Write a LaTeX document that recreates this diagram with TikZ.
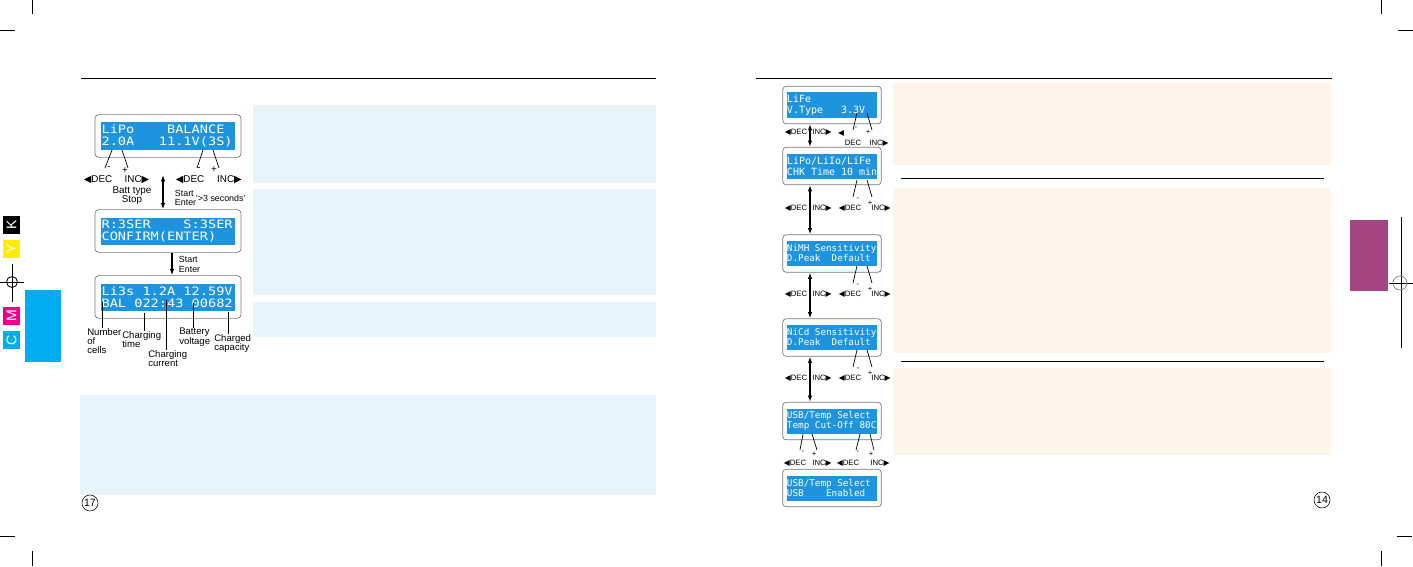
\documentclass[tikz,border=0pt]{standalone}
\usepackage{fontspec}
\setmainfont{Liberation Sans}
\newfontfamily\lcdfont[FakeStretch=1.18]{DejaVu Sans Mono}
\newfontfamily\lcdfontsm{DejaVu Sans Mono}
\newfontfamily\trifont{DejaVu Sans}
\usetikzlibrary{calc, positioning, arrows.meta, fit}
\definecolor{lcdblue}{RGB}{30,148,222}
\definecolor{framegray}{RGB}{120,120,120}
\definecolor{panelblue}{RGB}{230,244,252}
\definecolor{panelpeach}{RGB}{254,244,234}
\definecolor{cyanbox}{RGB}{0,174,239}
\definecolor{magentabox}{RGB}{236,0,140}
\definecolor{yellowbox}{RGB}{255,237,0}
\definecolor{purplebar}{RGB}{164,70,127}
\newcommand{\keydec}{{\trifont ◀}DEC}
\newcommand{\keyinc}{INC{\trifont ▶}}
% blank LCD cells, one character wide each
\newcommand{\gap}[1]{\hbox to #1\fontcharwd\font`0{}}
\tikzset{
    lcdframe/.style={draw=framegray, rounded corners=2.5pt, line width=0.5pt, inner xsep=0.14cm, inner ysep=0.19cm},
    lcdframesm/.style={draw=framegray, rounded corners=2.5pt, line width=0.5pt, inner xsep=0.1cm, inner ysep=0.15cm},
    lcdscreen/.style={fill=lcdblue, text=white, align=left, font=\fontsize{8.2}{8.2}\lcdfont, text width=3.32cm, inner xsep=0.015cm, inner ysep=0pt, minimum height=0.675cm},
    lcdscreensm/.style={fill=lcdblue, text=white, align=left, font=\fontsize{6.6}{7.1}\lcdfontsm, text width=2.25cm, inner xsep=0pt, inner ysep=0pt, minimum height=0.625cm},
    keylabel/.style={font=\fontsize{7}{6.8}\selectfont, inner sep=0.5pt},
    keylabelsm/.style={font=\fontsize{5.5}{5.5}\selectfont, inner sep=0.5pt},
    notelabel/.style={font=\fontsize{6.8}{6.6}\selectfont, align=left, inner sep=0pt},
    leadline/.style={line width=0.5pt},
    cropline/.style={line width=0.6pt},
    ruleline/.style={line width=0.7pt},
    flowboth/.style={{Latex[length=4.5pt,width=3.2pt]}-{Latex[length=4.5pt,width=3.2pt]}, line width=0.8pt},
    flowone/.style={-{Latex[length=4.5pt,width=3.2pt]}, line width=0.8pt},
    regbox/.style={minimum size=0.43cm, inner sep=0pt, text=white, rotate=90, font=\fontsize{10}{10}\selectfont},
    pagenum/.style={draw, circle, minimum size=0.4cm, inner sep=0pt, line width=0.4pt, font=\fontsize{7.5}{7.5}\selectfont}
}
\begin{document}
\begin{tikzpicture}[x=0.025cm, y=-0.025cm]
\useasboundingbox (0,0) rectangle (1413,566);

% crop marks
\draw[cropline] (32,0) -- (32,14);
\draw[cropline] (0,30) -- (15,30);
\draw[cropline] (1381,0) -- (1381,14);
\draw[cropline] (1398,30) -- (1413,30);
\draw[cropline] (0,536) -- (15,536);
\draw[cropline] (32,551) -- (32,566);
\draw[cropline] (1397,536) -- (1412,536);
\draw[cropline] (1381,551) -- (1381,566);

% colour bars and register marks
\node[regbox, fill=black] (regk) at (11.5,225) {K};
\node[regbox, fill=yellowbox] (regy) at (11.5,249) {Y};
\node[regbox, fill=magentabox] (regm) at (11.5,316) {M};
\node[regbox, fill=cyanbox] (regc) at (11.5,340) {C};
\draw[cropline] (12,264) -- (12,302);
\draw[cropline] (0,282) -- (24,282);
\draw[cropline] (12,282) circle[radius=5.5];
\fill[cyanbox] (25,290) rectangle (61,362);
\fill[purplebar] (1350,220) rectangle (1388,291);
\draw[cropline] (1401,217) -- (1401,348);
\draw[cropline] (1389,283) -- (1413,283);
\draw[gray, line width=0.5pt] (1400,283) circle[radius=7];

% header rules and panels
\draw[ruleline] (81,78) -- (656,78);
\draw[ruleline] (756,78) -- (1332,78);
\fill[panelblue] (253,105) rectangle (656,183);
\fill[panelblue] (253,189) rectangle (656,295);
\fill[panelblue] (253,302) rectangle (656,337);
\fill[panelblue] (80,395) rectangle (656,495);
\fill[panelpeach] (893,83) rectangle (1331,165);
\fill[panelpeach] (893,188) rectangle (1331,353);
\fill[panelpeach] (893,368) rectangle (1331,455);
\draw[ruleline] (901,178) -- (1324,178);
\draw[ruleline] (901,361) -- (1324,361);

% left page: balance charge screens
\node[lcdscreen] (scr1) at (168,136) {LiPo\gap{4}BALANCE\\2.0A\gap{3}11.1V(3S)};
\node[lcdframe, fit=(scr1)] (frm1) {};
\node[lcdscreen] (scr2) at (168,231) {R:3SER\gap{4}S:3SER\\CONFIRM(ENTER)};
\node[lcdframe, fit=(scr2)] (frm2) {};
\node[lcdscreen] (scr3) at (168,297) {Li3s\gap{1}1.2A\gap{1}12.59V\\BAL\gap{1}022:43\gap{1}00682};
\node[lcdframe, fit=(scr3)] (frm3) {};

\node[keylabel] (dec1) at (98,180) {\keydec};
\node[keylabel] (inc1) at (137,180) {\keyinc};
\node[keylabel] (minus1) at (109,168) {-};
\node[keylabel] (plus1) at (125,171) {+};
\node[keylabel, align=center] (batt) at (132,195.5) {Batt type\\Stop};
\node[keylabel] (dec2) at (190,180) {\keydec};
\node[keylabel] (inc2) at (229.5,180) {\keyinc};
\node[keylabel] (minus2) at (199,169) {-};
\node[keylabel] (plus2) at (214,170) {+};
\coordinate (t1a) at (112,150); \coordinate (b1a) at (105,168);
\coordinate (t1b) at (122,150); \coordinate (b1b) at (128,168);
\coordinate (t2a) at (203,150); \coordinate (b2a) at (197,168);
\coordinate (t2b) at (213,150); \coordinate (b2b) at (219,168);
\draw[leadline] (t1a) -- (b1a);
\draw[leadline] (t1b) -- (b1b);
\draw[leadline] (t2a) -- (b2a);
\draw[leadline] (t2b) -- (b2b);

\coordinate (swtop) at (163,175);
\draw[flowboth] (swtop) -- (swtop |- frm2.north);
\node[keylabel, font=\fontsize{6.3}{6.8}\selectfont, align=left, anchor=west] (start1) at (174,198) {Start\\Enter};
\node[keylabel, font=\fontsize{6.3}{6.8}\selectfont, anchor=west] (secs) at (195,198) {'>3 seconds'};
\draw[flowone] ($(frm2.south)+(4,0)$) -- ($(frm3.north)+(4,0)$);
\node[keylabel, font=\fontsize{6.3}{6.8}\selectfont, align=left, anchor=west] (start2) at (178,264.5) {Start\\Enter};

% readout legend
\node[notelabel, anchor=north west] (cells) at (87,328) {Number\\of\\cells};
\node[notelabel, anchor=north west] (ctime) at (122,331) {Charging\\time};
\node[notelabel, anchor=north west] (ccur) at (148,350) {Charging\\current};
\node[notelabel, anchor=north west] (bvolt) at (179,328) {Battery\\voltage};
\node[notelabel, anchor=north west] (ccap) at (214,334) {Charged\\capacity};
\coordinate (n1) at (102,302);
\coordinate (n2) at (144,313);
\coordinate (n3) at (166,300);
\coordinate (n4) at (193,303);
\coordinate (n5) at (228,312);
\draw[leadline] (n1) -- (n1 |- cells.north);
\draw[leadline] (n2) -- (n2 |- ctime.north);
\draw[leadline] (n3) -- (n3 |- ccur.north);
\draw[leadline] (n4) -- (n4 |- bvolt.north);
\draw[leadline] (n5) -- (n5 |- ccap.north);

\node[pagenum] (pgleft) at (90,503) {17};

% right page: settings screens
\node[lcdscreensm, font=\fontsize{7.1}{7.6}\lcdfontsm] (scra) at (832,105) {LiFe\\V.Type\gap{3}3.3V};
\node[lcdframesm, fit=(scra)] (frma) {};
\node[lcdscreensm, font=\fontsize{7.1}{7.6}\lcdfontsm] (scrb) at (832,166) {LiPo/LiIo/LiFe\\CHK\gap{1}Time\gap{1}10\gap{1}min};
\node[lcdframesm, fit=(scrb)] (frmb) {};
\node[lcdscreensm] (scrc) at (832,253.5) {NiMH\gap{1}Sensitivity\\D.Peak\gap{2}Default};
\node[lcdframesm, fit=(scrc)] (frmc) {};
\node[lcdscreensm] (scrd) at (832,337.5) {NiCd\gap{1}Sensitivity\\D.Peak\gap{2}Default};
\node[lcdframesm, fit=(scrd)] (frmd) {};
\node[lcdscreensm] (scre) at (832,421) {USB/Temp\gap{1}Select\\Temp\gap{1}Cut-Off\gap{1}80C};
\node[lcdframesm, fit=(scre)] (frme) {};
\node[lcdscreensm] (scrf) at (832,488) {USB/Temp\gap{1}Select\\USB\gap{4}Enabled};
\node[lcdframesm, fit=(scrf)] (frmf) {};

\foreach \a/\b in {a/b, b/c, c/d, d/e}
    \draw[flowboth] ($(frm\a.south)+(-22,0)$) -- ($(frm\b.north)+(-22,0)$);

% key rows
\node[keylabelsm] (decla) at (796,132) {\keydec};
\node[keylabelsm] (incla) at (822,132) {\keyinc};
\node[keylabelsm] (triar) at (841,133) {{\trifont ◀}};
\node[keylabelsm] (decra) at (853,143) {DEC};
\node[keylabelsm] (incra) at (879,143) {\keyinc};
\node[keylabelsm] (minusa) at (856,128) {-};
\node[keylabelsm] (plusa) at (868,132) {+};
\coordinate (ta1) at (857,113); \coordinate (ba1) at (853,130);
\coordinate (ta2) at (867,113); \coordinate (ba2) at (872,130);
\draw[leadline] (ta1) -- (ba1);
\draw[leadline] (ta2) -- (ba2);

\foreach \s/\yb in {b/180, c/266, d/350} {
    \node[keylabelsm] (decl\s) at (796,\yb+28) {\keydec};
    \node[keylabelsm] (incl\s) at (822,\yb+28) {\keyinc};
    \node[keylabelsm] (decr\s) at (850,\yb+28) {\keydec};
    \node[keylabelsm] (incr\s) at (881,\yb+28) {\keyinc};
    \node[keylabelsm] (minus\s) at (858,\yb+19) {-};
    \node[keylabelsm] (plus\s) at (870,\yb+23) {+};
    \coordinate (t\s1) at (857,\yb); \coordinate (b\s1) at (853,\yb+17);
    \coordinate (t\s2) at (867,\yb); \coordinate (b\s2) at (872,\yb+17);
    \draw[leadline] (t\s1) -- (b\s1);
    \draw[leadline] (t\s2) -- (b\s2);
}

\node[keylabelsm] (decle) at (795,463) {\keydec};
\node[keylabelsm] (incle) at (822,463) {\keyinc};
\node[keylabelsm] (decre) at (848,463) {\keydec};
\node[keylabelsm] (incre) at (880,463) {\keyinc};
\node[keylabelsm] (minusel) at (803,452) {-};
\node[keylabelsm] (plusel) at (814,454) {+};
\node[keylabelsm] (minuser) at (858,452) {-};
\node[keylabelsm] (pluser) at (871,454) {+};
\coordinate (te1) at (803,434); \coordinate (be1) at (800,450);
\coordinate (te2) at (812,434); \coordinate (be2) at (817,450);
\coordinate (te3) at (860,434); \coordinate (be3) at (856,450);
\coordinate (te4) at (870,434); \coordinate (be4) at (874,450);
\draw[leadline] (te1) -- (be1);
\draw[leadline] (te2) -- (be2);
\draw[leadline] (te3) -- (be3);
\draw[leadline] (te4) -- (be4);

\node[pagenum] (pgright) at (1322,500) {14};
\end{tikzpicture}
\end{document}
